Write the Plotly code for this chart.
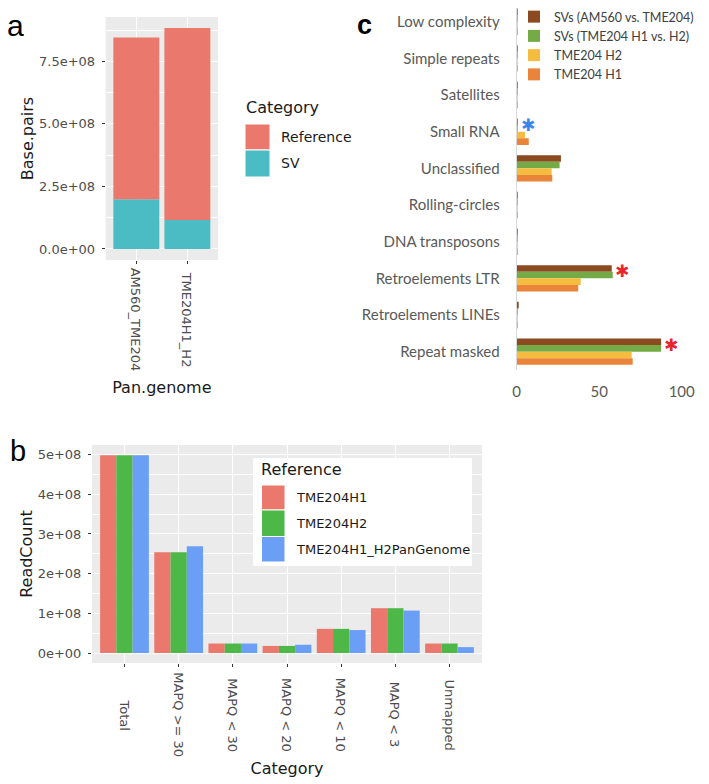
import plotly.graph_objects as go

# The page body keeps its default 8px margin, so the figure is drawn 8px in from the
# top-left corner; all layout positions below are given in page pixels and converted.
PAGE_W, PAGE_H = 709, 784
OFF = 8
W, H = PAGE_W - OFF, PAGE_H - OFF


def px(x):
    return (x - OFF) / W


def py(y):
    return 1 - (y - OFF) / H


# ---------------- Panel a data ----------------
pan_genomes = ["AM560_TME204", "TME204H1_H2"]
sv_bp = [1.99e8, 1.16e8]
reference_bp = [6.46e8, 7.67e8]
a_tickvals = [0, 2.5e8, 5.0e8, 7.5e8]
a_ticktext = ["0.0e+00", "2.5e+08", "5.0e+08", "7.5e+08"]

# ---------------- Panel b data ----------------
read_categories = ["Total", "MAPQ >= 30", "MAPQ < 30", "MAPQ < 20", "MAPQ < 10", "MAPQ < 3", "Unmapped"]
reads_h1 = [4.98e8, 2.54e8, 0.24e8, 0.18e8, 0.61e8, 1.13e8, 0.24e8]
reads_h2 = [4.98e8, 2.54e8, 0.24e8, 0.18e8, 0.61e8, 1.13e8, 0.24e8]
reads_pan = [4.98e8, 2.69e8, 0.24e8, 0.21e8, 0.58e8, 1.07e8, 0.15e8]
b_tickvals = [0, 1e8, 2e8, 3e8, 4e8, 5e8]
b_ticktext = ["0e+00", "1e+08", "2e+08", "3e+08", "4e+08", "5e+08"]

# ---------------- Panel c data ----------------
repeat_classes = ["Low complexity", "Simple repeats", "Satellites", "Small RNA", "Unclassified",
                  "Rolling-circles", "DNA transposons", "Retroelements LTR", "Retroelements LINEs",
                  "Repeat masked"]
pct_sv_am560 = [0.3, 0.4, 0.5, 0.6, 26.8, 0.4, 0.6, 57.6, 1.2, 87.5]
pct_sv_h1h2 = [0.3, 0.3, 0.4, 0.4, 26.0, 0.3, 0.4, 58.2, 0.6, 87.5]
pct_h2 = [0.4, 0.3, 0.4, 5.0, 21.2, 0.3, 0.3, 38.8, 0.5, 69.7]
pct_h1 = [0.4, 0.3, 0.4, 7.3, 21.6, 0.3, 0.3, 37.3, 0.5, 70.3]
c_tickvals = [0, 50, 100]
starred_classes = ["Small RNA", "Retroelements LTR", "Repeat masked"]
star_colors = ["#3a86e6", "#e8262b", "#e8262b"]

# colours
RED, TEAL = "#ea786c", "#4cbcc4"
B_RED, B_GREEN, B_BLUE = "#ea786c", "#4db848", "#6a9ff5"
C_BROWN, C_GREEN, C_YELLOW, C_ORANGE = "#8b4a1f", "#74ab46", "#f5bd40", "#e9843a"
GG_BG = "#ebebeb"
TICK_TXT = "#4d4d4d"
FONT = "DejaVu Sans"
CFONT = "Lato"

# panel c category axis geometry (page px): first category centre and spacing
C_TOP_PX, C_BOTTOM_PX, C_CAT_PX = 3.4, 370.0, 36.67
c_visible_top = max(C_TOP_PX, OFF)
c_range_top = -0.5 + (c_visible_top - C_TOP_PX) / C_CAT_PX

fig = go.Figure()

# Panel a (stacked: SV bottom, Reference on top)
fig.add_trace(go.Bar(x=pan_genomes, y=sv_bp, name="SV", marker=dict(color=TEAL, line_width=0),
                     width=0.9, offset=-0.45, xaxis="x", yaxis="y", showlegend=False))
fig.add_trace(go.Bar(x=pan_genomes, y=reference_bp, base=sv_bp, name="Reference",
                     marker=dict(color=RED, line_width=0),
                     width=0.9, offset=-0.45, xaxis="x", yaxis="y", showlegend=False))

# Panel b (dodged)
for vals, col, nm, off in [(reads_h1, B_RED, "TME204H1", -0.45),
                           (reads_h2, B_GREEN, "TME204H2", -0.15),
                           (reads_pan, B_BLUE, "TME204H1_H2PanGenome", 0.15)]:
    fig.add_trace(go.Bar(x=read_categories, y=vals, name=nm, marker=dict(color=col, line_width=0),
                         width=0.3, offset=off, xaxis="x2", yaxis="y2", showlegend=False))

# Panel c (horizontal grouped)
for vals, col, nm, off in [(pct_sv_am560, C_BROWN, "SVs (AM560 vs. TME204)", -0.36),
                           (pct_sv_h1h2, C_GREEN, "SVs (TME204 H1 vs. H2)", -0.18),
                           (pct_h2, C_YELLOW, "TME204 H2", 0.0),
                           (pct_h1, C_ORANGE, "TME204 H1", 0.18)]:
    fig.add_trace(go.Bar(y=repeat_classes, x=vals, orientation="h", name=nm,
                         marker=dict(color=col, line_width=0), width=0.18, offset=off,
                         xaxis="x3", yaxis="y3", legend="legend3"))

grid = dict(showgrid=True, gridcolor="white", gridwidth=1.2, zeroline=False, showline=False,
            automargin=False)
tick_style = dict(ticks="outside", ticklen=3, tickwidth=1, tickcolor="#333333")

layout = dict(
    width=W, height=H, margin=dict(l=0, r=0, t=0, b=0, autoexpand=False),
    paper_bgcolor="white", plot_bgcolor="white",
    barmode="overlay",
    font=dict(family=FONT, color="#1a1a1a"),
    xaxis=dict(domain=[px(105.7), px(218)], anchor="y", type="category", range=[-0.6, 1.6],
               showticklabels=False,
               title=dict(text="Pan.genome", font=dict(size=16, color="#1a1a1a"), standoff=118),
               **grid, **tick_style),
    yaxis=dict(domain=[py(260), py(17)], anchor="x", range=[-0.44e8, 9.27e8],
               tickmode="array", tickvals=a_tickvals, ticktext=a_ticktext,
               tickfont=dict(size=13, color=TICK_TXT), ticklabelstandoff=4,
               minor=dict(tickmode="linear", tick0=0, dtick=1.25e8, showgrid=True,
                          gridcolor="white", gridwidth=0.6, ticks=""),
               title=dict(text="Base.pairs", font=dict(size=16, color="#1a1a1a"), standoff=1),
               **grid, **tick_style),
    xaxis2=dict(domain=[px(92), px(482)], anchor="y2", type="category", range=[-0.6, 6.6],
                showticklabels=False,
                title=dict(text="Category", font=dict(size=16, color="#1a1a1a"), standoff=96),
                **grid, **tick_style),
    yaxis2=dict(domain=[py(663), py(445)], anchor="x2", range=[-0.25e8, 5.24e8],
                tickmode="array", tickvals=b_tickvals, ticktext=b_ticktext,
                tickfont=dict(size=13, color=TICK_TXT), ticklabelstandoff=4,
                minor=dict(tickmode="linear", tick0=0, dtick=0.5e8, showgrid=True,
                           gridcolor="white", gridwidth=0.6, ticks=""),
                title=dict(text="ReadCount", font=dict(size=16, color="#1a1a1a"), standoff=1),
                **grid, **tick_style),
    xaxis3=dict(domain=[px(516.7), px(516.7 + 110 * 1.65)], anchor="y3", range=[0, 110],
                tickmode="array", tickvals=c_tickvals, showgrid=False, zeroline=False,
                showline=False, ticks="", automargin=False, ticklabelstandoff=11,
                tickfont=dict(family=CFONT, size=15, color="#595959")),
    yaxis3=dict(domain=[py(C_BOTTOM_PX), py(c_visible_top)], anchor="x3", type="category",
                categoryorder="array", categoryarray=repeat_classes, range=[9.5, c_range_top],
                showgrid=False, zeroline=False, showline=True, linecolor="#d9d9d9", linewidth=1,
                ticks="", ticklabelstandoff=13, automargin=False,
                tickfont=dict(family=CFONT, size=15, color="#595959")),
    legend3=dict(x=px(514), y=py(2), xanchor="left", yanchor="top", bgcolor="rgba(0,0,0,0)",
                 font=dict(family=CFONT, size=12.5, color="#404040"), itemwidth=30,
                 tracegroupgap=0),
)
fig.update_layout(**layout)

shapes = []
annotations = []

# ggplot grey panel backgrounds
for xr, yr in [("x domain", "y domain"), ("x2 domain", "y2 domain")]:
    shapes.append(dict(type="rect", xref=xr, yref=yr, x0=0, x1=1, y0=0, y1=1,
                       fillcolor=GG_BG, line_width=0, layer="below"))

# x tick labels (centered, rotated) for panels a and b
for cat in pan_genomes:
    annotations.append(dict(x=cat, xref="x", y=py(320), yref="paper", text=cat, textangle=90,
                            showarrow=False, xanchor="center", yanchor="middle",
                            font=dict(size=13, color=TICK_TXT)))
for cat in read_categories:
    annotations.append(dict(x=cat, xref="x2", y=py(715), yref="paper", text=cat, textangle=90,
                            showarrow=False, xanchor="center", yanchor="middle",
                            font=dict(size=13, color=TICK_TXT)))

# Panel a legend (ggplot style)
annotations.append(dict(x=px(244), y=py(108), xref="paper", yref="paper", text="Category",
                        showarrow=False, xanchor="left", yanchor="middle",
                        font=dict(size=16, color="#1a1a1a")))
for (nm, col), (y0, y1) in zip([("Reference", RED), ("SV", TEAL)], [(124, 150), (150, 177)]):
    shapes.append(dict(type="rect", xref="paper", yref="paper", x0=px(245), x1=px(270),
                       y0=py(y1), y1=py(y0), fillcolor=col, line=dict(color="white", width=1)))
    annotations.append(dict(x=px(279), y=py((y0 + y1) / 2), xref="paper", yref="paper", text=nm,
                            showarrow=False, xanchor="left", yanchor="middle",
                            font=dict(size=14, color="#1a1a1a")))

# Panel b legend (ggplot style, inside the panel)
shapes.append(dict(type="rect", xref="paper", yref="paper", x0=px(253), x1=px(472),
                   y0=py(566), y1=py(458), fillcolor="white", line_width=0))
annotations.append(dict(x=px(259), y=py(469), xref="paper", yref="paper", text="Reference",
                        showarrow=False, xanchor="left", yanchor="middle",
                        font=dict(size=16, color="#1a1a1a")))
for (nm, col), (y0, y1) in zip([("TME204H1", B_RED), ("TME204H2", B_GREEN),
                                ("TME204H1_H2PanGenome", B_BLUE)],
                               [(485, 510), (510, 536.5), (536.5, 562)]):
    shapes.append(dict(type="rect", xref="paper", yref="paper", x0=px(261.5), x1=px(285),
                       y0=py(y1), y1=py(y0), fillcolor=col, line=dict(color="white", width=1)))
    annotations.append(dict(x=px(294), y=py((y0 + y1) / 2), xref="paper", yref="paper", text=nm,
                            showarrow=False, xanchor="left", yanchor="middle",
                            font=dict(size=13, color="#1a1a1a")))

# significance asterisks in panel c
for cls, col in zip(starred_classes, star_colors):
    xv = pct_sv_am560[repeat_classes.index(cls)]
    annotations.append(dict(x=xv, y=cls, xref="x3", yref="y3", text="✱", showarrow=False,
                            xanchor="center", yanchor="middle", xshift=10, yshift=7,
                            font=dict(family="DejaVu Sans", size=17, color=col)))

# panel letters (kept inside the figure area)
annotations.append(dict(x=px(15), y=py(25), xref="paper", yref="paper", text="a",
                        showarrow=False, xanchor="center", yanchor="middle",
                        font=dict(family="Liberation Sans", size=30, color="black")))
annotations.append(dict(x=px(8), y=py(451), xref="paper", yref="paper", text="b",
                        showarrow=False, xanchor="left", yanchor="middle",
                        font=dict(family="Liberation Sans", size=29, color="black")))
annotations.append(dict(x=px(364), y=py(8), xref="paper", yref="paper", text="c",
                        showarrow=False, xanchor="center", yanchor="top",
                        font=dict(family="Liberation Sans", size=27, color="black",
                                  weight="bold")))

fig.update_layout(shapes=shapes, annotations=annotations)
fig.write_html("out.html")
